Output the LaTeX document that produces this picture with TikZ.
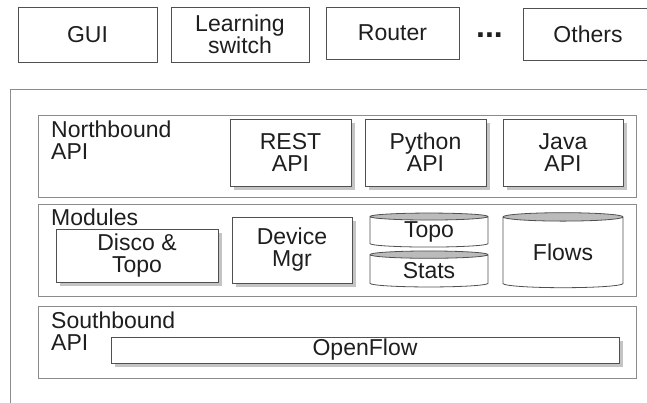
\documentclass[tikz,border=0pt]{standalone}
\usepackage{fontspec}
\setmainfont{Liberation Sans}
\usepackage{tikz}
\usetikzlibrary{shapes.geometric,shadows}
\definecolor{edgegray}{HTML}{505050}
\definecolor{framegray}{HTML}{8C8C8C}
\definecolor{shadowgray}{HTML}{C4C4C4}
\definecolor{endgray}{HTML}{BBBBBB}
\definecolor{inkgray}{HTML}{1E1E1E}

\begin{document}
\begin{tikzpicture}[x=1pt, y=-1pt,
  every node/.style={font=\fontsize{23}{22}\selectfont, text=inkgray, align=center},
  appbox/.style={draw=edgegray, line width=0.9pt, inner sep=0pt},
  layerbox/.style={draw=framegray, line width=0.9pt, inner sep=0pt},
  apibox/.style={appbox, fill=white, drop shadow={shadow xshift=4pt, shadow yshift=-4pt, fill=shadowgray, opacity=1}},
  store/.style={cylinder, shape border rotate=90, draw=edgegray, line width=0.8pt, cylinder uses custom fill, cylinder body fill=white, cylinder end fill=endgray, aspect=0.14, inner sep=0pt},
  layertext/.style={anchor=north west, align=left, inner sep=0pt}
]
  \useasboundingbox (0,0) rectangle (647,403);
  \clip (0,0) rectangle (647,403);

  % applications
  \node[appbox, minimum width=139, minimum height=55] (gui) at (87.5,34.5) {GUI};
  \node[appbox, minimum width=138, minimum height=55] (lswitch) at (240,34.5) {Learning\\switch};
  \node[appbox, minimum width=133, minimum height=52] (router) at (392.5,33) {Router};
  \node[anchor=base, inner sep=0pt, font=\fontsize{32}{32}\selectfont\bfseries] (dots) at (489.5,38) {...};
  \node[appbox, minimum width=130, minimum height=52] (others) at (588,34) {Others};

  % controller
  \node[layerbox, anchor=north west, minimum width=660, minimum height=340] (ctrl) at (10,89) {};

  \node[layerbox, minimum width=598, minimum height=82] (north) at (337,156) {};
  \node[layertext] (northtext) at (51,121) {Northbound\\API};
  \node[apibox, minimum width=121, minimum height=67] (rest) at (290.5,152.5) {REST\\API};
  \node[apibox, minimum width=121, minimum height=67] (python) at (425.5,152.5) {Python\\API};
  \node[apibox, minimum width=120, minimum height=67] (java) at (563,152.5) {Java\\API};

  \node[layerbox, minimum width=598, minimum height=92] (modules) at (337,250) {};
  \node[layertext] (modtext) at (51,209) {Modules};
  \node[apibox, minimum width=162, minimum height=53] (disco) at (137,255.5) {Disco \&\\Topo};
  \node[apibox, minimum width=120, minimum height=66] (devmgr) at (292,250) {Device\\Mgr};
  \node[store, minimum width=118, minimum height=34] (topo) at (429,232) {Topo};
  \node[store, minimum width=118, minimum height=36] (stats) at (429,271) {Stats};
  \node[store, minimum width=120, minimum height=75] (flows) at (563,252.5) {Flows};

  \node[layerbox, minimum width=598, minimum height=72] (south) at (337,342) {};
  \node[layertext] (southtext) at (51,312) {Southbound\\API};
  \node[apibox, minimum width=508, minimum height=26] (openflow) at (365,350) {OpenFlow};
\end{tikzpicture}
\end{document}
